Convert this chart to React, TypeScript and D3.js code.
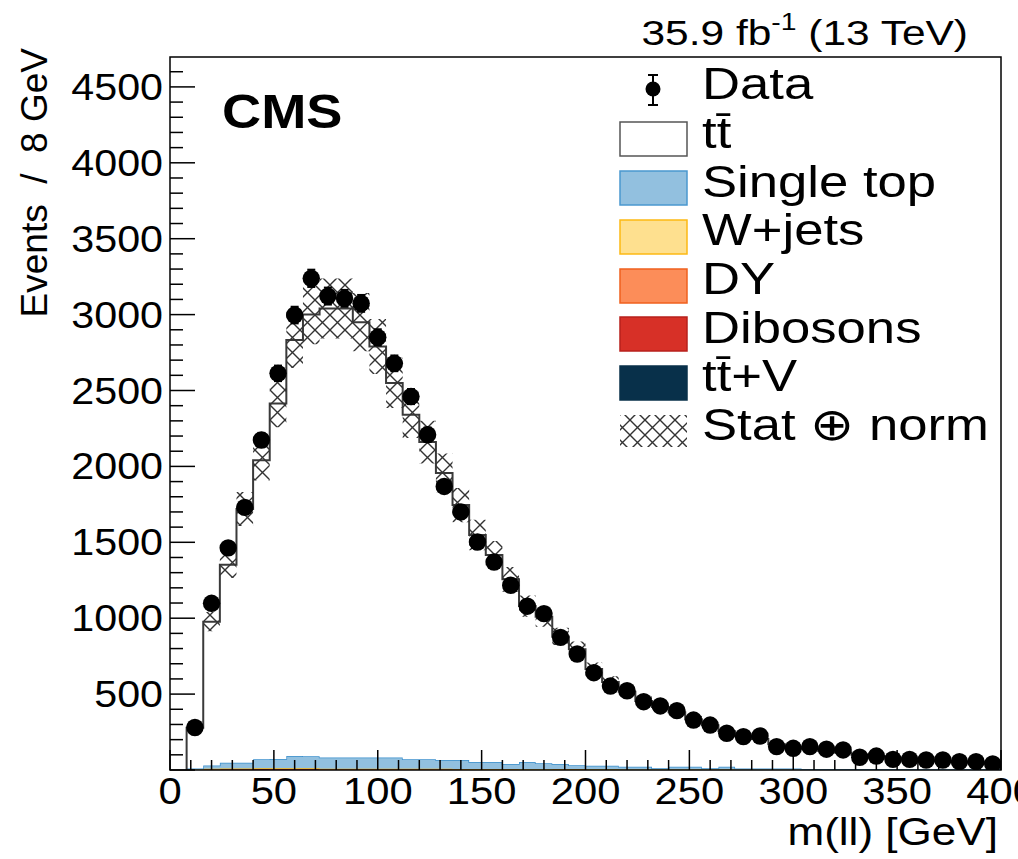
import React from 'react';
import * as d3 from 'd3';

// m(ll) bins: 8 GeV wide, lower edges from 8 to 392 GeV
const binWidth = 8;
const binLow = d3.range(8, 400, binWidth);

const dataCounts = [280,1098,1463,1730,2174,2613,2997,3239,3122,3107,3074,2850,2679,2460,2209,1868,1700,1502,1370,1217,1079,1030,874,764,641,553,522,450,422,391,329,296,242,220,224,154,143,154,137,132,84,92,70,70,66,66,55,55,40];
const ttbar = [268,947,1304,1672,1970,2343,2741,2910,2958,2958,2868,2708,2468,2270,2090,1891,1679,1496,1364,1216,1028,966,840,763,637,552,493,433,403,358,313,283,233,215,195,160,140,134,119,109,94,84,74,66,59,54,49,44,39];
const singleTop = [6,22,38,38,59,60,80,78,73,73,74,74,74,62,62,58,59,46,46,33,47,39,34,26,23,23,18,18,9,19,19,9,19,8,8,8,8,4,4,4,5,5,5,5,5,5,5,5,5];
const wjets = [0,1,1,1,1,1,1,1,1,1,1,1,1,1,1,1,1,1,1,1,0,0,0,0,0,0,0,0,0,0,0,0,0,0,0,0,0,0,0,0,0,0,0,0,0,0,0,0,0];
const dy = [3,4,3,3,3,6,6,6,3,3,2,2,2,2,2,2,1,1,1,1,1,1,1,1,1,1,1,1,1,1,1,1,1,0,0,0,0,0,0,0,0,0,0,0,0,0,0,0,0];
const dibosons = [1,2,4,4,4,2,2,2,2,2,2,2,2,2,2,2,2,2,2,3,2,2,3,3,2,2,1,1,1,1,1,1,1,1,1,1,1,1,1,1,0,0,0,0,0,0,0,0,0];
const ttV = [0,1,2,2,3,3,3,3,3,3,3,3,3,3,3,3,3,2,2,2,2,2,2,2,2,2,2,2,1,1,1,1,1,1,1,1,1,1,1,1,1,1,1,1,1,1,1,1,1];
const relUnc = 0.065;

const xTicksMajor = [0, 50, 100, 150, 200, 250, 300, 350, 400];
const yTicksMajor = [500, 1000, 1500, 2000, 2500, 3000, 3500, 4000, 4500];

const processes = [
  { key: 'ttV', label: 'tt̄+V', values: ttV, fill: '#08304a', stroke: '#08304a' },
  { key: 'dib', label: 'Dibosons', values: dibosons, fill: '#d73027', stroke: '#b8201c' },
  { key: 'dy', label: 'DY', values: dy, fill: '#fc8d59', stroke: '#f0601e' },
  { key: 'wj', label: 'W+jets', values: wjets, fill: '#fee08f', stroke: '#fdb913' },
  { key: 'st', label: 'Single top', values: singleTop, fill: '#92c0df', stroke: '#3b8fcc' },
  { key: 'tt', label: 'tt̄', values: ttbar, fill: '#ffffff', stroke: '#444444' },
];

const FONT = '"Liberation Sans", Arial, Helvetica, sans-serif';

export default function App() {
  const W = 1018, H = 859;
  const left = 170, right = 1001, top = 57, bottom = 770;
  const x = d3.scaleLinear().domain([0, 400]).range([left, right]);
  const y = d3.scaleLinear().domain([0, 4697]).range([bottom, top]);

  const rows = binLow.map((b, i) => {
    const r: any = { b };
    processes.forEach(p => { r[p.key] = p.values[i]; });
    return r;
  });
  const stack = d3.stack<any>().keys(processes.map(p => p.key))(rows);

  const stepPts = (lo: (i: number) => number, hi: (i: number) => number) => {
    const pts: { x: number; y0: number; y1: number }[] = [];
    binLow.forEach((b, i) => {
      pts.push({ x: b, y0: lo(i), y1: hi(i) });
      pts.push({ x: b + binWidth, y0: lo(i), y1: hi(i) });
    });
    return pts;
  };
  const area = d3.area<{ x: number; y0: number; y1: number }>()
    .x(d => x(d.x)).y0(d => y(d.y0)).y1(d => y(d.y1));
  const topLine = (vals: (i: number) => number, closeToZero: boolean) => {
    const pts: [number, number][] = [];
    if (closeToZero) pts.push([x(binLow[0]), y(0)]);
    binLow.forEach((b, i) => {
      pts.push([x(b), y(vals(i))]);
      pts.push([x(b + binWidth), y(vals(i))]);
    });
    if (closeToZero) pts.push([x(binLow[binLow.length - 1] + binWidth), y(0)]);
    return d3.line()(pts) || '';
  };

  const total = (i: number) => stack[stack.length - 1][i][1];

  const xMinor = d3.range(0, 401, 10);
  const yMinor = d3.range(0, 4697, 100);

  const legendRows = [
    { label: 'tt̄', fill: '#ffffff', stroke: '#555', top: 122, base: 148 },
    { label: 'Single top', fill: '#92c0df', stroke: '#4a98cf', top: 171, base: 197 },
    { label: 'W+jets', fill: '#fee08f', stroke: '#fdb913', top: 220, base: 245 },
    { label: 'DY', fill: '#fc8d59', stroke: '#f0601e', top: 269, base: 294 },
    { label: 'Dibosons', fill: '#d73027', stroke: '#b8201c', top: 317, base: 343 },
    { label: 'tt̄+V', fill: '#08304a', stroke: '#08304a', top: 366, base: 391 },
  ];

  const sx = 1.13;
  const lx = 1.17;

  return (
    <svg width={W} height={H} style={{ position: 'absolute', left: 0, top: 0, background: '#fff' }} fontFamily={FONT}>
      <defs>
        <pattern id="hatch" patternUnits="userSpaceOnUse" width="15" height="15">
          <path d="M0,0 L15,15 M15,0 L0,15" stroke="#333" strokeWidth="1.4" fill="none" />
        </pattern>
        <clipPath id="frame"><rect x={left} y={top} width={right - left} height={bottom - top} /></clipPath>
      </defs>
      <rect x={0} y={0} width={W} height={H} fill="#fff" />

      <g clipPath="url(#frame)">
        {stack.map((layer, li) => {
          const p = processes[li];
          return (
            <g key={p.key}>
              <path d={area(stepPts(i => layer[i][0], i => layer[i][1])) || ''} fill={p.fill} stroke="none" />
              {p.key !== 'tt' && (
                <path d={topLine(i => layer[i][1], false)} fill="none" stroke={p.stroke} strokeWidth={1.5} />
              )}
            </g>
          );
        })}
        <path d={topLine(total, true)} fill="none" stroke="#3a3a3a" strokeWidth={2} />
        <path d={area(stepPts(i => total(i) * (1 - relUnc), i => total(i) * (1 + relUnc))) || ''} fill="url(#hatch)" stroke="none" />
        {dataCounts.map((n, i) => {
          const cx = x(binLow[i] + binWidth / 2);
          const e = Math.sqrt(n);
          return (
            <g key={i}>
              <line x1={cx} x2={cx} y1={y(n - e)} y2={y(n + e)} stroke="#000" strokeWidth={2} />
              <line x1={cx - 4} x2={cx + 4} y1={y(n + e)} y2={y(n + e)} stroke="#000" strokeWidth={2} />
              <line x1={cx - 4} x2={cx + 4} y1={y(n - e)} y2={y(n - e)} stroke="#000" strokeWidth={2} />
              <circle cx={cx} cy={y(n)} r={8.7} fill="#000" />
            </g>
          );
        })}
      </g>

      {/* frame */}
      <rect x={left} y={top} width={right - left} height={bottom - top} fill="none" stroke="#000" strokeWidth={1.5} />

      {/* x ticks */}
      {xMinor.map(v => {
        const major = v % 50 === 0;
        return <line key={'xt' + v} x1={x(v)} x2={x(v)} y1={bottom} y2={bottom - (major ? 20 : 10)} stroke="#000" strokeWidth={1.5} />;
      })}
      {xTicksMajor.map(v => (
        <g key={'xl' + v} transform={`translate(${x(v)},804) scale(${sx},1)`}>
          <text textAnchor="middle" fontSize={37}>{v}</text>
        </g>
      ))}
      {/* y ticks */}
      {yMinor.map(v => {
        const major = v % 500 === 0;
        return <line key={'yt' + v} x1={left} x2={left + (major ? 25 : 13)} y1={y(v)} y2={y(v)} stroke="#000" strokeWidth={1.5} />;
      })}
      {yTicksMajor.map(v => (
        <g key={'yl' + v} transform={`translate(163,${y(v) + 13}) scale(${sx},1)`}>
          <text textAnchor="end" fontSize={36.5}>{v}</text>
        </g>
      ))}

      {/* axis titles */}
      <text transform="translate(47,48) rotate(-90)" textAnchor="end" fontSize={37} style={{ whiteSpace: 'pre' }}>{'Events  /  8 GeV'}</text>
      <g transform={`translate(998,845) scale(${sx},1)`}>
        <text textAnchor="end" fontSize={39}>m(ll) [GeV]</text>
      </g>

      {/* CMS label and lumi */}
      <g transform={`translate(222,128) scale(${sx},1)`}>
        <text fontSize={48} fontWeight="bold">CMS</text>
      </g>
      <g transform={`translate(968,45) scale(1.18,1)`}>
        <text textAnchor="end" fontSize={36}>
          35.9 fb<tspan fontSize={24} dy={-15}>-1</tspan><tspan dy={15}> (13 TeV)</tspan>
        </text>
      </g>

      {/* legend */}
      <g>
        <line x1={653} x2={653} y1={75} y2={105} stroke="#000" strokeWidth={2} />
        <line x1={648} x2={658} y1={75} y2={75} stroke="#000" strokeWidth={2} />
        <line x1={648} x2={658} y1={105} y2={105} stroke="#000" strokeWidth={2} />
        <circle cx={653} cy={89} r={7.5} fill="#000" />
        <g transform={`translate(702,99) scale(${lx},1)`}><text fontSize={45}>Data</text></g>
        {legendRows.map(r => (
          <g key={r.label}>
            <rect x={620} y={r.top} width={67} height={34} fill={r.fill} stroke={r.stroke} strokeWidth={1.5} />
            <g transform={`translate(702,${r.base}) scale(${lx},1)`}><text fontSize={45}>{r.label}</text></g>
          </g>
        ))}
        <rect x={620} y={415} width={67} height={32} fill="url(#hatch)" />
        <g transform={`translate(702,440) scale(${lx},1)`}><text fontSize={45}>Stat ⊕ norm</text></g>
      </g>
    </svg>
  );
}
